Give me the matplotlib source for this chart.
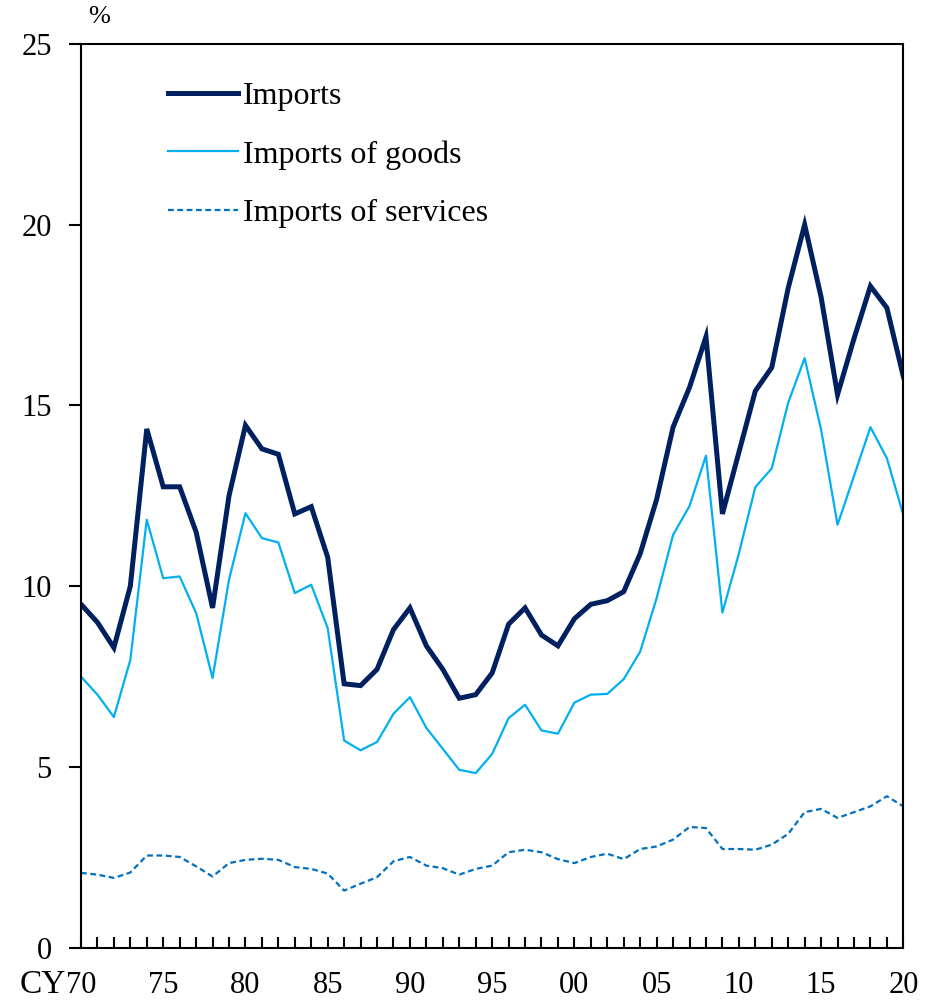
import numpy as np
import matplotlib
matplotlib.use("Agg")
import matplotlib.pyplot as plt
from matplotlib.ticker import MultipleLocator, FixedLocator

plt.rcParams['font.family'] = ['Liberation Serif', 'DejaVu Serif']

# ---------------------------- data (% ) ----------------------------
years = list(range(1970, 2021))

imports_total = [9.5, 9.0, 8.3, 10.0, 14.35, 12.75, 12.75, 11.5, 9.4, 12.5,
                 14.45, 13.8, 13.65, 12.0, 12.2, 10.8, 7.3, 7.25, 7.7, 8.8,
                 9.4, 8.35, 7.7, 6.9, 7.0, 7.6, 8.95, 9.4, 8.65, 8.35,
                 9.1, 9.5, 9.6, 9.85, 10.9, 12.4, 14.4, 15.5, 16.9, 12.0,
                 13.7, 15.4, 16.05, 18.25, 20.0, 18.0, 15.3, 16.85, 18.3, 17.7,
                 15.8]

imports_goods = [7.5, 7.0, 6.38, 7.96, 11.84, 10.22, 10.27, 9.26, 7.46, 10.18,
                 12.02, 11.33, 11.21, 9.81, 10.04, 8.84, 5.73, 5.46, 5.69, 6.47,
                 6.93, 6.08, 5.5, 4.92, 4.83, 5.36, 6.35, 6.72, 6.01, 5.92,
                 6.78, 7.0, 7.02, 7.43, 8.19, 9.67, 11.42, 12.22, 13.61, 9.27,
                 10.9, 12.74, 13.26, 15.08, 16.31, 14.33, 11.7, 13.05, 14.4, 13.54,
                 11.97]

imports_services = [2.07, 2.02, 1.93, 2.08, 2.55, 2.55, 2.51, 2.25, 1.97, 2.34,
                    2.43, 2.46, 2.43, 2.23, 2.18, 2.05, 1.58, 1.77, 1.95, 2.39,
                    2.51, 2.27, 2.2, 2.02, 2.18, 2.27, 2.64, 2.71, 2.64, 2.45,
                    2.34, 2.51, 2.6, 2.45, 2.73, 2.8, 2.99, 3.34, 3.31, 2.73,
                    2.73, 2.71, 2.85, 3.15, 3.75, 3.84, 3.59, 3.75, 3.91, 4.19,
                    3.91]

xtick_years = list(range(1970, 2021, 5))
xtick_labels = ['70', '75', '80', '85', '90', '95', '00', '05', '10', '15', '20']

# ---------------------------- plot ----------------------------
fig = plt.figure(figsize=(9.33, 10.02), dpi=100)
ax = fig.add_axes([0.0868, 0.0542, 0.8814, 0.9019])

ax.plot(years, imports_total, color='#002060', lw=3.6, label='Imports',
        solid_joinstyle='miter')
ax.plot(years, imports_goods, color='#00B0F0', lw=1.6, label='Imports of goods')
ax.plot(years, imports_services, color='#0070C0', lw=1.6, ls=(0, (2.6, 1.6)),
        label='Imports of services')

ax.set_xlim(1970, 2020)
ax.set_ylim(0, 25)

ax.yaxis.set_major_locator(MultipleLocator(5))
ax.tick_params(axis='y', direction='out', length=9, width=1.5, pad=12,
               labelsize=22)

ax.xaxis.set_major_locator(FixedLocator(xtick_years))
ax.set_xticklabels(xtick_labels)
ax.xaxis.set_minor_locator(MultipleLocator(1))
ax.tick_params(axis='x', which='both', direction='in', length=8, width=1.5,
               labelsize=22, pad=17)

for s in ax.spines.values():
    s.set_linewidth(1.5)

ax.text(-0.018, -0.0415, 'CY', transform=ax.transAxes, ha='right', va='center',
        fontsize=24)
ax.text(0.0085, 1.03, '%', transform=ax.transAxes, ha='left', va='center',
        fontsize=19)

leg = ax.legend(loc='upper left', bbox_to_anchor=(0.09, 0.972), frameon=False,
                fontsize=23, handlelength=2.2, handletextpad=0.16,
                labelspacing=0.9, borderaxespad=0)

fig.savefig('out.png', dpi=100)
